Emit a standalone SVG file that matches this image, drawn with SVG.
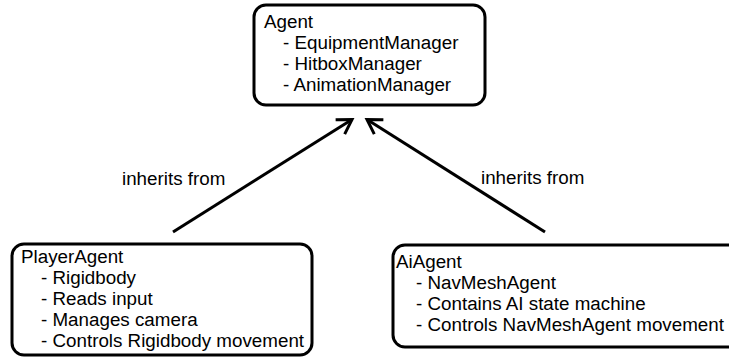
<svg xmlns="http://www.w3.org/2000/svg" width="729" height="358" viewBox="0 0 729 358">
<style>
.box{fill:#fff;stroke:#000;stroke-width:3}
text{font-family:"Liberation Sans",Arial,sans-serif;font-size:18.8px;fill:#000}
.conn{stroke:#000;stroke-width:3;fill:none}
</style>
<defs>
<marker id="arr" markerUnits="userSpaceOnUse" viewBox="-20 -12 24 24" markerWidth="24" markerHeight="24" refX="0" refY="0" orient="auto">
<path d="M-14,-8.5 L0,0 L-14,8.5" fill="none" stroke="#000" stroke-width="3"/>
</marker>
</defs>
<rect width="729" height="358" fill="#fff"/>
<g id="connectors">
<line class="conn" x1="173" y1="232" x2="352" y2="119.5" marker-end="url(#arr)"/>
<line class="conn" x1="545" y1="232" x2="367" y2="119.5" marker-end="url(#arr)"/>
<text x="122" y="185">inherits from</text>
<text x="481" y="184">inherits from</text>
</g>
<g id="agent">
<rect class="box" x="254" y="5" width="231" height="100" rx="12"/>
<text x="264" y="27.5">Agent</text>
<text x="283" y="48.5">- EquipmentManager</text>
<text x="283" y="69.5">- HitboxManager</text>
<text x="283" y="90.5">- AnimationManager</text>
</g>
<g id="playerAgent">
<rect class="box" x="12" y="244" width="300" height="111" rx="12"/>
<text x="21" y="262.5">PlayerAgent</text>
<text x="41" y="283.5">- Rigidbody</text>
<text x="41" y="304.5">- Reads input</text>
<text x="41" y="325.5">- Manages camera</text>
<text x="41" y="346.5">- Controls Rigidbody movement</text>
</g>
<g id="aiAgent">
<rect class="box" x="393" y="245" width="350" height="102" rx="12"/>
<text x="396" y="267.5">AiAgent</text>
<text x="416" y="288.5">- NavMeshAgent</text>
<text x="416" y="309.5">- Contains AI state machine</text>
<text x="416" y="330.5">- Controls NavMeshAgent movement</text>
</g>
</svg>
